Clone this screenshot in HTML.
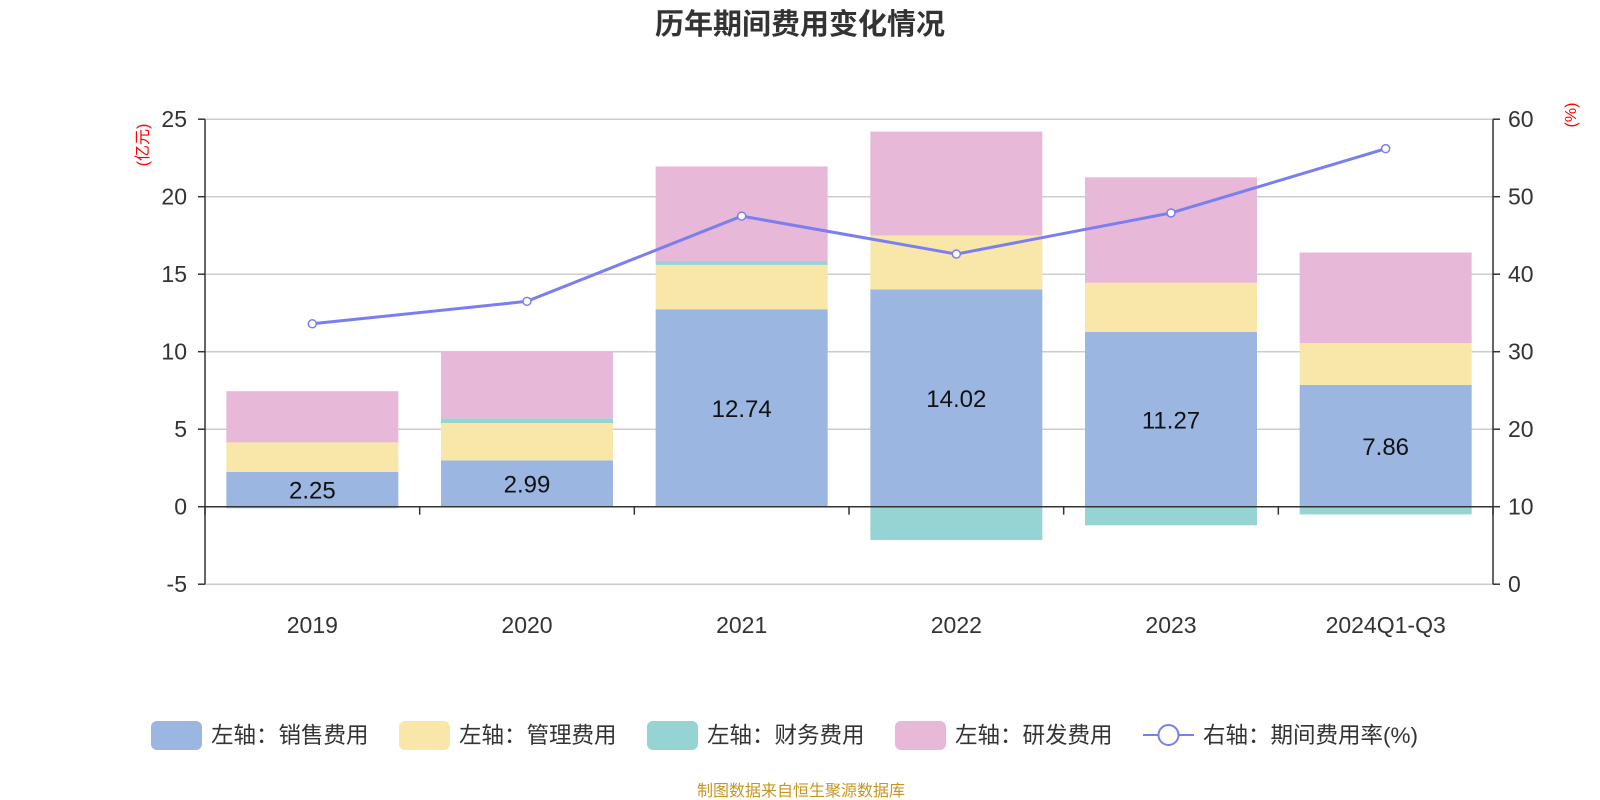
<!DOCTYPE html>
<html><head><meta charset="utf-8"><style>
html,body{margin:0;padding:0;background:#fff;}
svg{display:block;font-family:"Liberation Sans","Noto Sans CJK SC",sans-serif;}
</style></head><body>
<svg id="chart" width="1600" height="800"></svg>
<script>
const categories=["2019","2020","2021","2022","2023","2024Q1-Q3"];
const salesVals=[2.25,2.99,12.74,14.02,11.27,7.86];
const mgmtVals=[1.9,2.41,2.86,3.48,3.18,2.69];
const finVals=[-0.1,0.3,0.25,-2.15,-1.2,-0.5];
const rdVals=[3.3,4.3,6.1,6.7,6.8,5.85];
const rateVals=[33.6,36.5,47.5,42.6,47.9,56.2];
const leftTicks=[-5,0,5,10,15,20,25];
const rightTicks=[0,10,20,30,40,50,60];
const legendLabels=["左轴：销售费用","左轴：管理费用","左轴：财务费用","左轴：研发费用","右轴：期间费用率(%)"];
const colors=["#9bb7e1","#f8e7a8","#96d4d4","#e7b8d8"];

const svg=document.getElementById('chart');
const NS="http://www.w3.org/2000/svg";
const X0=205,X1=1493;
const Y0=506.7,PU=15.5;
const bw=(X1-X0)/categories.length;
const yL=v=>Y0-v*PU;
const yR=v=>584.2-v*(465/60);
const xc=i=>X0+bw*(i+0.5);
function mk(tag,attrs,parent){const e=document.createElementNS(NS,tag);for(const k in attrs)e.setAttribute(k,attrs[k]);(parent||svg).appendChild(e);return e;}

let t=mk('text',{x:800,y:34,'text-anchor':'middle','font-size':29,'font-weight':'bold',fill:'#333'});t.textContent='历年期间费用变化情况';



leftTicks.forEach(v=>{
  const y=yL(v);
  if(v!==0){const g=mk('line',{x1:X0,x2:X1,y1:y,y2:y,stroke:'#ccc','stroke-width':1.5});
  
  }
  mk('line',{x1:X0-7,x2:X0,y1:y,y2:y,stroke:'#333','stroke-width':1.5});
  const l=mk('text',{x:X0-18,y:y+8,'text-anchor':'end','font-size':23,fill:'#333'});l.textContent=v;
  
  
});
rightTicks.forEach(v=>{
  const y=yR(v);
  mk('line',{x1:X1,x2:X1+7,y1:y,y2:y,stroke:'#333','stroke-width':1.5});
  const l=mk('text',{x:X1+15,y:y+8,'font-size':23,fill:'#333'});l.textContent=v;
  
  
});
mk('line',{x1:X0,x2:X0,y1:yL(25),y2:yL(-5),stroke:'#333','stroke-width':1.5});
mk('line',{x1:X1,x2:X1,y1:yR(60),y2:yR(0),stroke:'#333','stroke-width':1.5});
let u=mk('text',{transform:'translate(148,145) rotate(-90)','text-anchor':'middle','font-size':16,fill:'red'});u.textContent='(亿元)';


u=mk('text',{transform:'translate(1576,115) rotate(-90)','text-anchor':'middle','font-size':16,fill:'red'});u.textContent='(%)';



categories.forEach((c,i)=>{
  let pos=0,neg=0;const x=xc(i)-86;
  series=[salesVals,mgmtVals,finVals,rdVals];
  series.forEach((arr,s)=>{
    const v=arr[i];let a,b;
    if(v>=0){a=pos;b=pos+v;pos=b;}else{a=neg;b=neg+v;neg=b;}
    const r=mk('rect',{x:x,width:172,y:Math.min(yL(a),yL(b)),height:Math.abs(yL(a)-yL(b)),fill:colors[s]});
    
    
  });
  const l=mk('text',{x:xc(i),y:yL(salesVals[i]/2)+9,'text-anchor':'middle','font-size':24,fill:'#111'});l.textContent=salesVals[i].toFixed(2);
  
  
  const xl=mk('text',{x:xc(i),y:633,'text-anchor':'middle','font-size':23,fill:'#333'});xl.textContent=c;
  
  
});
var series;
mk('line',{x1:X0,x2:X1,y1:yL(0),y2:yL(0),stroke:'#333','stroke-width':1.5});
for(let i=0;i<=categories.length;i++){mk('line',{x1:X0+bw*i,x2:X0+bw*i,y1:Y0,y2:Y0+8,stroke:'#333','stroke-width':1.5});}

const pts=rateVals.map((v,i)=>xc(i)+','+yR(v)).join(' ');
const pl=mk('polyline',{points:pts,fill:'none',stroke:'#7b7ef0','stroke-width':3});


rateVals.forEach((v,i)=>{const c=mk('circle',{cx:xc(i),cy:yR(v),r:4,fill:'#fff',stroke:'#7b7ef0','stroke-width':1.5});

});

const lx=[151,399,647,895,1143];
legendLabels.forEach((lab,i)=>{
  const g=mk('g',{});
  
  
  if(i<4){mk('rect',{x:lx[i],y:721,width:51,height:29,rx:6,fill:colors[i]},g);}
  else{mk('line',{x1:lx[i],x2:lx[i]+51,y1:735,y2:735,stroke:'#7b7ef0','stroke-width':2},g);
       mk('circle',{cx:lx[i]+25.5,cy:735,r:10,fill:'#fff',stroke:'#7b7ef0','stroke-width':2},g);}
  const tx=mk('text',{x:lx[i]+60,y:743,'font-size':22.5,fill:'#333'},g);tx.textContent=lab;
});
const src=mk('text',{x:801,y:796,'text-anchor':'middle','font-size':16,fill:'#c8961e'});src.textContent='制图数据来自恒生聚源数据库';


</script>
</body></html>
